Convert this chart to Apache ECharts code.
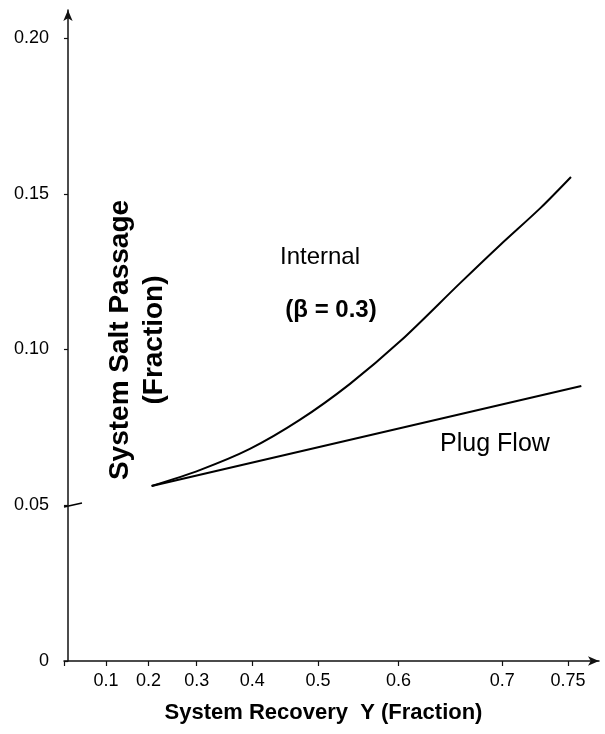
<!DOCTYPE html>
<html>
<head>
<meta charset="utf-8">
<script src="https://cdn.jsdelivr.net/npm/echarts@6/dist/echarts.min.js"></script>
<style>
  html, body { margin: 0; padding: 0; background: #fff; }
  #chart { width: 605px; height: 734px; }
</style>
</head>
<body>
<div id="chart"></div>
<script>
// recovery axis is drawn on a -ln(1 - Y) scale, like the original figure
const xTicks = [0.1, 0.2, 0.3, 0.4, 0.5, 0.6, 0.7, 0.75]
const yTicks = [0, 0.05, 0.10, 0.15, 0.20]

const internalRecovery = [0.207, 0.306, 0.396, 0.474, 0.542, 0.602, 0.663, 0.698, 0.730, 0.752]
const internalPassage = [0.0562, 0.0613, 0.0681, 0.0774, 0.0889, 0.1027, 0.1214, 0.1335, 0.1454, 0.1554]

const plugRecovery = [0.207, 0.759]
const plugPassage = [0.0562, 0.0883]

const font = '"Liberation Sans", Arial, sans-serif'
const toAxis = y => -Math.log(1 - y)
const fromAxis = v => 1 - Math.exp(-v)
const pairs = (xs, ys) => xs.map((x, i) => [toAxis(x), ys[i]])

const chart = echarts.init(document.getElementById('chart'))

chart.setOption({
  backgroundColor: '#fff',
  animation: false,
  grid: { left: 64, right: 6, top: 10, bottom: 73, outerBoundsMode: 'none' },
  xAxis: {
    type: 'value',
    min: -0.011,
    max: 1.472,
    name: 'System Recovery  Y (Fraction)',
    nameLocation: 'middle',
    nameGap: 41,
    nameTextStyle: { fontFamily: font, fontSize: 22, fontWeight: 'bold', color: '#000', padding: [0, 16, 0, 0] },
    axisLine: { lineStyle: { color: '#111', width: 1.5 }, symbol: ['none', 'arrow'], symbolSize: [7, 11] },
    axisTick: { customValues: [-0.011].concat(xTicks.map(toAxis)), length: 5, lineStyle: { color: '#111', width: 1.2 } },
    axisLabel: {
      customValues: xTicks.map(toAxis),
      margin: 11,
      fontFamily: font,
      fontSize: 18,
      color: '#000',
      formatter: v => String(+fromAxis(v).toFixed(2)),
    },
    splitLine: { show: false },
  },
  yAxis: {
    type: 'value',
    min: 0,
    max: 0.209,
    axisLine: { show: true, lineStyle: { color: '#111', width: 1.5 }, symbol: ['none', 'arrow'], symbolSize: [7, 11] },
    axisTick: { show: true, customValues: yTicks, length: 4, lineStyle: { color: '#111', width: 1.2 } },
    axisLabel: {
      customValues: yTicks,
      margin: 15,
      fontFamily: font,
      fontSize: 18,
      color: '#000',
      formatter: v => (v === 0 ? '0' : v.toFixed(2)),
    },
    splitLine: { show: false },
  },
  series: [
    {
      name: 'Internal (β = 0.3)',
      type: 'line',
      data: pairs(internalRecovery, internalPassage),
      smooth: 0.3,
      symbol: 'none',
      lineStyle: { color: '#000', width: 2 },
    },
    {
      name: 'Plug Flow',
      type: 'line',
      data: pairs(plugRecovery, plugPassage),
      symbol: 'none',
      lineStyle: { color: '#000', width: 2 },
    },
  ],
  graphic: [
    {
      type: 'text',
      x: 137,
      y: 340,
      rotation: Math.PI / 2,
      style: {
        text: 'System Salt Passage\n(Fraction)',
        fontFamily: font,
        fontSize: 28,
        fontWeight: 'bold',
        lineHeight: 34,
        fill: '#000',
        align: 'center',
        verticalAlign: 'middle',
      },
    },
    {
      type: 'text',
      x: 320,
      y: 257,
      style: { text: 'Internal', fontFamily: font, fontSize: 24, fill: '#000', align: 'center', verticalAlign: 'middle' },
    },
    {
      type: 'text',
      x: 331,
      y: 310,
      style: { text: '(β = 0.3)', fontFamily: font, fontSize: 24, fontWeight: 'bold', fill: '#000', align: 'center', verticalAlign: 'middle' },
    },
    {
      type: 'text',
      x: 495,
      y: 444,
      style: { text: 'Plug Flow', fontFamily: font, fontSize: 25, fill: '#000', align: 'center', verticalAlign: 'middle' },
    },
    {
      type: 'line',
      shape: { x1: 64, y1: 507, x2: 82, y2: 503 },
      style: { stroke: '#000', lineWidth: 1.5 },
    },
  ],
})
</script>
</body>
</html>
